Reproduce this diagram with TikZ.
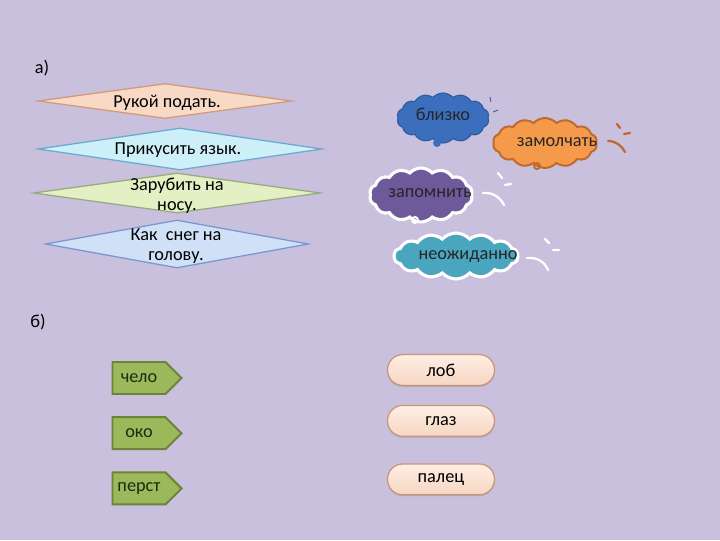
\documentclass[tikz,border=0pt]{standalone}
\usepackage{fontspec}
\setmainfont{Carlito}
\usetikzlibrary{shapes.geometric, shapes.symbols, positioning, shadows}
\definecolor{bgviolet}{HTML}{C8C0DC}
\definecolor{peachfill}{HTML}{F8D9C6}
\definecolor{peachline}{HTML}{D29A78}
\definecolor{cyanfill}{HTML}{CDEFF8}
\definecolor{cyanline}{HTML}{6AAAD2}
\definecolor{limefill}{HTML}{E2F0C4}
\definecolor{limeline}{HTML}{98AA80}
\definecolor{skyfill}{HTML}{D0E0F6}
\definecolor{skyline}{HTML}{7896D2}
\definecolor{cloudblue}{HTML}{3C6EBE}
\definecolor{cloudblueline}{HTML}{2F5A9E}
\definecolor{cloudorange}{HTML}{F59A4A}
\definecolor{cloudorangeline}{HTML}{C0692E}
\definecolor{cloudpurple}{HTML}{6E5A9A}
\definecolor{cloudteal}{HTML}{4AA5BE}
\definecolor{tagfill}{HTML}{9BB85A}
\definecolor{tagline}{HTML}{6E8238}
\definecolor{tagtext}{HTML}{1E2A14}
\definecolor{pilltop}{HTML}{FFEEE4}
\definecolor{pillbottom}{HTML}{F6D6C2}
\definecolor{pillline}{HTML}{C8967A}

\begin{document}
\begin{tikzpicture}[
  x=0.025cm, y=-0.025cm,
  every node/.style={font=\fontsize{13pt}{14pt}\selectfont},
  dmd/.style={diamond, inner sep=0pt, line width=0.9pt},
  dtext/.style={align=center, inner sep=0pt, text=black},
  puff/.style={cloud, cloud puffs=14, cloud puff arc=95, aspect=2, inner sep=0pt},
  ctext/.style={inner sep=0pt, text=black!85},
  whoosh/.style={line width=1.6pt, line cap=round},
  tag/.style={signal, signal to=east, signal pointer angle=90, minimum width=1.725cm,
    minimum height=0.8cm, inner sep=0pt, fill=tagfill, draw=tagline, line width=1.4pt,
    text=tagtext},
  pill/.style={rectangle, rounded corners=0.38cm, minimum width=2.675cm, minimum height=0.77cm,
    inner sep=0pt, top color=pilltop, bottom color=pillbottom, draw=pillline, line width=0.9pt,
    drop shadow={shadow xshift=0pt, shadow yshift=-1pt, opacity=0.35}},
  lbl/.style={inner sep=0pt, text=black}
]
\fill[bgviolet] (0,0) rectangle (720,540);

% part a
\node[lbl] (parta) at (42,68) {а)};

\node[dmd, fill=peachfill, draw=peachline, minimum width=6.35cm, minimum height=0.875cm] (podat) at (165,101) {};
\node[dtext] (podat-t) at (167,103) {Рукой подать.};

\node[dmd, fill=cyanfill, draw=cyanline, minimum width=7.1cm, minimum height=1.05cm] (yazyk) at (180,149) {};
\node[dtext] (yazyk-t) at (178,150) {Прикусить язык.};

\node[dmd, fill=limefill, draw=limeline, minimum width=7.175cm, minimum height=1cm] (nosu) at (177,193) {};
\node[dtext] (nosu-t) at (177,196) {Зарубить на\\носу.};

\node[dmd, fill=skyfill, draw=skyline, minimum width=6.575cm, minimum height=1.2cm] (sneg) at (177,244) {};
\node[dtext] (sneg-t) at (176,246) {Как\ \ снег на\\голову.};

% clouds
\node[puff, fill=cloudblue, draw=cloudblueline, line width=0.8pt, minimum width=2.3cm, minimum height=1.25cm] (blizko) at (443,118) {};
\node[ctext] (blizko-t) at (443,114) {близко};
\fill[cloudblue] (437,143) circle (4);
\draw[cloudblueline, line width=0.6pt] (490,97) -- (491,102) (493,112) -- (498,110);

\node[puff, fill=cloudorange, draw=cloudorangeline, line width=1.4pt, minimum width=2.6cm, minimum height=1.25cm] (zamolchat) at (545,143) {};
\node[ctext] (zamolchat-t) at (557,142) {замолчать};
\draw[cloudorangeline, line width=1.4pt] (537,166) circle (3);
\draw[whoosh, cloudorangeline] (608,141) .. controls (616,141) and (622,146) .. (625,152)
  (617,124) -- (620,128) (624,134) -- (630,133);

\node[puff, fill=cloudpurple, draw=white, line width=2.2pt, minimum width=2.575cm, minimum height=1.35cm] (zapomnit) at (421,195) {};
\node[ctext] (zapomnit-t) at (430,193) {запомнить};
\draw[white, line width=1.4pt] (415,220) circle (3);
\draw[whoosh, white] (483,193) .. controls (492,192) and (500,197) .. (504,205)
  (498,173) -- (502,178) (505,185) -- (511,184);

\node[puff, fill=cloudteal, draw=white, line width=2.2pt, minimum width=3.1cm, minimum height=1.15cm] (neozh) at (456,256) {};
\node[ctext] (neozh-t) at (468,257) {неожиданно};
\draw[whoosh, white] (527,258) .. controls (537,257) and (545,262) .. (548,270)
  (545,239) -- (549,243) (553,250) -- (559,250);

% part b
\node[lbl] (partb) at (38,322) {б)};

\node[tag] (chelo) at (139,378) {чело};
\node[tag, below=0.53cm of chelo] (oko) {око};
\node[tag, below=0.53cm of oko] (perst) {перст};

\node[pill] (lob) at (441,370) {лоб};
\node[pill, below=0.47cm of lob] (glaz) {глаз};
\node[pill, below=0.66cm of glaz] (palec) {палец};

\end{tikzpicture}
\end{document}
